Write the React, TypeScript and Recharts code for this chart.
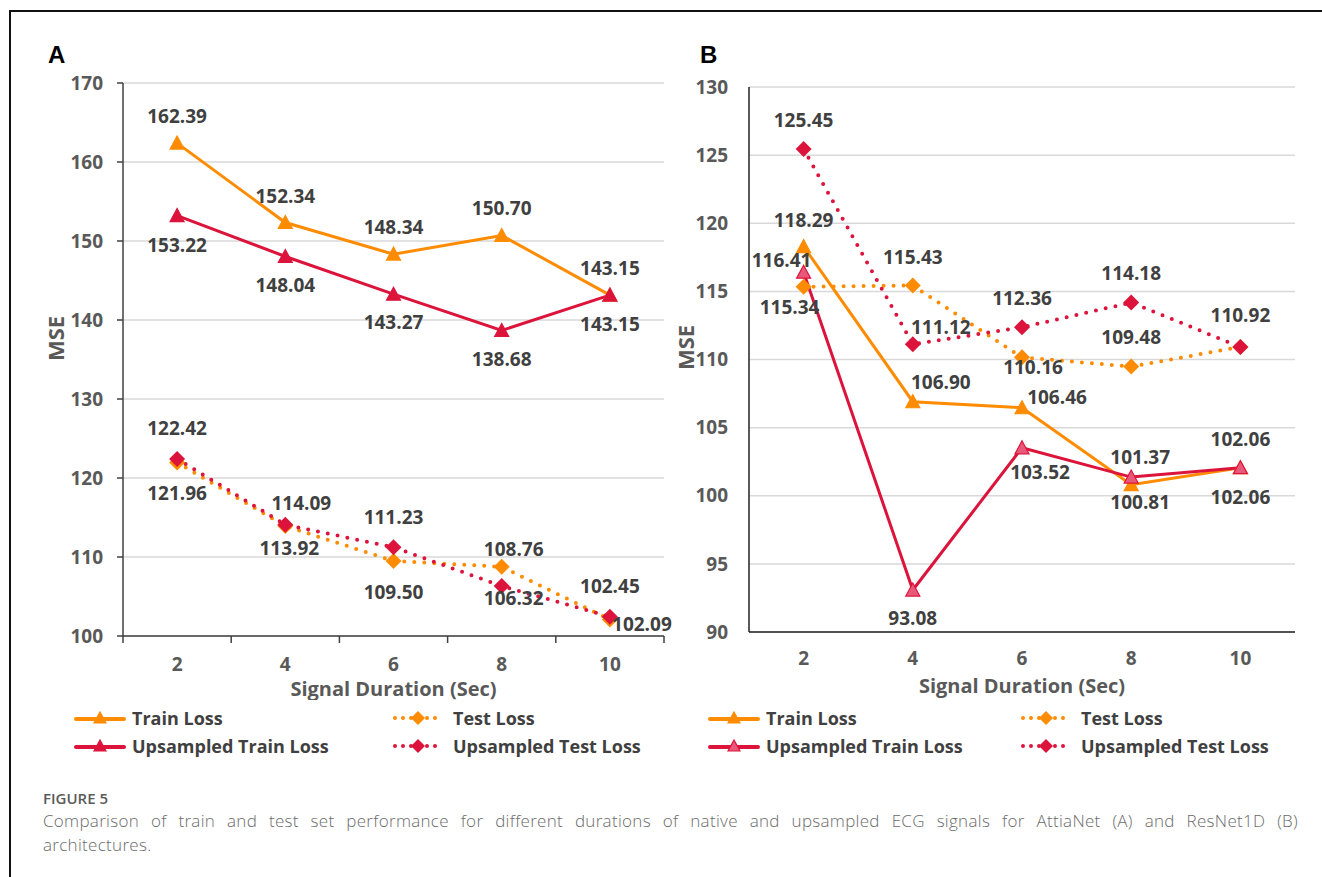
import React from "react"
import { LineChart, Line, XAxis, YAxis, CartesianGrid, LabelList } from "recharts"

// signal durations in seconds
const durations = [2, 4, 6, 8, 10]

// AttiaNet (A)
const trainA = [162.39, 152.34, 148.34, 150.7, 143.15]
const testA = [121.96, 113.92, 109.5, 108.76, 102.09]
const upTrainA = [153.22, 148.04, 143.27, 138.68, 143.15]
const upTestA = [122.42, 114.09, 111.23, 106.32, 102.45]
const ticksA = [100, 110, 120, 130, 140, 150, 160, 170]

// ResNet1D (B)
const trainB = [118.29, 106.9, 106.46, 100.81, 102.06]
const testB = [115.34, 115.43, 110.16, 109.48, 110.92]
const upTrainB = [116.41, 93.08, 103.52, 101.37, 102.06]
const upTestB = [125.45, 111.12, 112.36, 114.18, 110.92]
const ticksB = [90, 95, 100, 105, 110, 115, 120, 125, 130]

const seriesNames = ["Train Loss", "Test Loss", "Upsampled Train Loss", "Upsampled Test Loss"]

const ORANGE = "#FF8C00"
const RED = "#DC143C"
const FONT = "'Open Sans', 'Noto Sans', sans-serif"

// label offsets [dx, dy] per point, null = no label
type Off = [number, number] | null
const labelsA: Record<string, Off[]> = {
  train: [[0, -27], [0, -27], [0, -27], [0, -27], [0, -27]],
  test: [[0, 30], [4, 22], [0, 31], [12, -18], [32, 5]],
  upTrain: [[0, 29], [0, 29], [0, 28], [0, 29], [0, 29]],
  upTest: [[0, -31], [16, -22], [0, -30], [12, 12], [0, -31]],
}
const labelsB: Record<string, Off[]> = {
  train: [[0, -27], [28, -20], [35, -11], [9, 17], [0, 29]],
  test: [[-14, 20], [0, -29], [11, 10], [0, -30], null],
  upTrain: [[-22, -12], [0, 28], [18, 24], [9, -20], [0, -29]],
  upTest: [[0, -29], [28, -17], [0, -29], [0, -30], [0, -32]],
}

const boundaries = [durations[0] - 1, ...durations.map((d) => d + 1)]
const xTicks = [...durations, ...boundaries].sort((a, b) => a - b)

function rows(train: number[], test: number[], upTrain: number[], upTest: number[]) {
  return durations.map((d, i) => ({ x: d, train: train[i], test: test[i], upTrain: upTrain[i], upTest: upTest[i] }))
}

function Tri({ cx, cy, fill, stroke, s = 7 }: any) {
  return (
    <polygon
      points={`${cx},${cy - s} ${cx - s},${cy + s - 1} ${cx + s},${cy + s - 1}`}
      fill={fill}
      stroke={stroke || fill}
      strokeWidth={1.2}
    />
  )
}

function Diamond({ cx, cy, fill, s = 8 }: any) {
  return <polygon points={`${cx},${cy - s} ${cx + s},${cy} ${cx},${cy + s} ${cx - s},${cy}`} fill={fill} />
}

const makeLabel = (offs: Off[]) => (p: any) => {
  const o = offs[p.index]
  if (!o) return null
  return (
    <text
      key={`l${p.index}`}
      x={p.x + o[0]}
      y={p.y + o[1]}
      textAnchor="middle"
      dominantBaseline="central"
      fill="#404040"
      fontSize={19}
      fontWeight={700}
      fontFamily={FONT}
    >
      {Number(p.value).toFixed(2)}
    </text>
  )
}

const XTick = ({ x, y, payload, boundary, labelDy }: any) => {
  const v = payload.value
  if (durations.includes(v)) {
    return (
      <text x={x} y={y + labelDy} textAnchor="middle" dominantBaseline="central" fill="#595959" fontSize={19} fontWeight={700} fontFamily={FONT}>
        {v}
      </text>
    )
  }
  if (boundary) return <line x1={x} x2={x} y1={y} y2={y + 7} stroke="#404040" strokeWidth={1.5} />
  return <g />
}

function Panel({ data, labels, domain, ticks, left, plotLeft, plotRight, top, bottom, boundary, axisColor, yTickLine, msePos, hollow, labelDy, titleDy }: any) {
  const W = 700
  const H = 700
  const yw = 60
  return (
    <div style={{ position: "absolute", left, top: 0 }}>
      <LineChart
        width={W}
        height={H}
        data={data}
        margin={{ top, left: plotLeft - left - yw, right: W - (plotRight - left), bottom: H - bottom - 60 }}
      >
        <CartesianGrid vertical={false} stroke="#D9D9D9" strokeWidth={1.5} />
        <XAxis
          dataKey="x"
          type="number"
          domain={[boundaries[0], boundaries[boundaries.length - 1]]}
          ticks={xTicks}
          interval={0}
          height={60}
          tickSize={0}
          tickMargin={0}
          tickLine={false}
          axisLine={{ stroke: axisColor, strokeWidth: 1.5 }}
          tick={<XTick boundary={boundary} labelDy={labelDy} />}
          label={{
            content: (p: any) => (
              <text
                x={p.viewBox.x + p.viewBox.width / 2}
                y={p.viewBox.y + titleDy}
                textAnchor="middle"
                dominantBaseline="central"
                fill="#595959"
                fontSize={20}
                fontWeight={700}
                fontFamily={FONT}
              >
                Signal Duration (Sec)
              </text>
            ),
          }}
        />
        <YAxis
          width={yw}
          domain={domain}
          ticks={ticks}
          interval={0}
          tickSize={6}
          tickMargin={yTickLine ? 14 : 15}
          tickLine={yTickLine ? { stroke: axisColor, strokeWidth: 1.5 } : false}
          axisLine={{ stroke: axisColor, strokeWidth: 1.5 }}
          tick={{ fill: "#595959", fontSize: 19, fontWeight: 700, fontFamily: FONT }}
          label={{
            content: (p: any) => (
              <text
                transform={`translate(${p.viewBox.x + msePos[0]}, ${p.viewBox.y + p.viewBox.height / 2 + msePos[1]}) rotate(-90)`}
                textAnchor="middle"
                dominantBaseline="central"
                fill="#595959"
                fontSize={22}
                fontWeight={700}
                fontFamily={FONT}
              >
                MSE
              </text>
            ),
          }}
        />
        <Line
          dataKey="train"
          stroke={ORANGE}
          strokeWidth={3}
          isAnimationActive={false}
          activeDot={false}
          dot={(p: any) => <Tri key={`t${p.index}`} cx={p.cx} cy={p.cy} fill={ORANGE} />}
        >
          <LabelList dataKey="train" content={makeLabel(labels.train)} />
        </Line>
        <Line
          dataKey="test"
          stroke={ORANGE}
          strokeWidth={4}
          strokeDasharray="0 10"
          strokeLinecap="round"
          isAnimationActive={false}
          activeDot={false}
          dot={(p: any) => <Diamond key={`s${p.index}`} cx={p.cx} cy={p.cy} fill={ORANGE} />}
        >
          <LabelList dataKey="test" content={makeLabel(labels.test)} />
        </Line>
        <Line
          dataKey="upTrain"
          stroke={RED}
          strokeWidth={3}
          isAnimationActive={false}
          activeDot={false}
          dot={(p: any) => <Tri key={`u${p.index}`} cx={p.cx} cy={p.cy} fill={hollow ? "#E8587A" : RED} stroke={RED} />}
        >
          <LabelList dataKey="upTrain" content={makeLabel(labels.upTrain)} />
        </Line>
        <Line
          dataKey="upTest"
          stroke={RED}
          strokeWidth={4}
          strokeDasharray="0 10"
          strokeLinecap="round"
          isAnimationActive={false}
          activeDot={false}
          dot={(p: any) => <Diamond key={`v${p.index}`} cx={p.cx} cy={p.cy} fill={RED} />}
        >
          <LabelList dataKey="upTest" content={makeLabel(labels.upTest)} />
        </Line>
      </LineChart>
    </div>
  )
}

function LegendItem({ x, y, name, color, dotted, light }: any) {
  return (
    <div style={{ position: "absolute", left: x, top: y - 12, height: 24, display: "flex", alignItems: "center" }}>
      <svg width={52} height={24} style={{ marginRight: dotted ? 9 : 6 }}>
        {dotted ? (
          <>
            <line x1={3} x2={50} y1={12} y2={12} stroke={color} strokeWidth={4} strokeDasharray="0 8" strokeLinecap="round" />
            <Diamond cx={26} cy={12} fill={color} s={7} />
          </>
        ) : (
          <>
            <line x1={2} x2={50} y1={13} y2={13} stroke={color} strokeWidth={4} strokeLinecap="round" />
            <Tri cx={26} cy={12} fill={light ? "#E8587A" : color} stroke={color} s={6} />
          </>
        )}
      </svg>
      <span style={{ fontFamily: FONT, fontWeight: 700, fontSize: 18, color: "#404040", whiteSpace: "nowrap" }}>{name}</span>
    </div>
  )
}

function Legend({ x1, x2, light }: any) {
  return (
    <>
      <LegendItem x={x1} y={718} name={seriesNames[0]} color={ORANGE} />
      <LegendItem x={x2} y={718} name={seriesNames[1]} color={ORANGE} dotted />
      <LegendItem x={x1} y={746} name={seriesNames[2]} color={RED} light={light} />
      <LegendItem x={x2} y={746} name={seriesNames[3]} color={RED} dotted />
    </>
  )
}

export default function App() {
  return (
    <div style={{ position: "fixed", left: 0, top: 0, width: 1322, height: 877, overflow: "hidden", background: "#fff" }}>
      <div style={{ position: "absolute", left: 9, top: 10, width: 1400, height: 1000, borderLeft: "2px solid #111", borderTop: "2px solid #111" }} />
      <div style={{ position: "absolute", left: 48, top: 40, fontFamily: "'Liberation Sans', Arial, sans-serif", fontWeight: 700, fontSize: 24, lineHeight: "30px" }}>A</div>
      <div style={{ position: "absolute", left: 700, top: 40, fontFamily: "'Liberation Sans', Arial, sans-serif", fontWeight: 700, fontSize: 24, lineHeight: "30px" }}>B</div>

      <Panel
        data={rows(trainA, testA, upTrainA, upTestA)}
        labels={labelsA}
        domain={[100, 170]}
        ticks={ticksA}
        left={0}
        plotLeft={123}
        plotRight={664}
        top={83}
        bottom={636}
        boundary
        axisColor="#404040"
        yTickLine
        msePos={[-8, -21]}
        labelDy={28}
        titleDy={52}
      />
      <Panel
        data={rows(trainB, testB, upTrainB, upTestB)}
        labels={labelsB}
        domain={[90, 130]}
        ticks={ticksB}
        left={630}
        plotLeft={749}
        plotRight={1295}
        top={87}
        bottom={632}
        boundary={false}
        axisColor="#222"
        yTickLine={false}
        msePos={[-4, -12]}
        hollow
        labelDy={26}
        titleDy={53}
      />

      <Legend x1={74} x2={392} />
      <Legend x1={708} x2={1020} light />

      <div style={{ position: "absolute", left: 43, top: 788, fontFamily: FONT, fontSize: 15, fontWeight: 600, color: "#5a5a5a", lineHeight: "20px" }}>
        FIGURE 5
      </div>
      <div style={{ position: "absolute", left: 43, top: 809, width: 1255, fontFamily: FONT, fontSize: 17, fontWeight: 300, letterSpacing: 0.3, color: "#6b6b6b", lineHeight: "24px" }}>
        <div style={{ textAlign: "justify", textAlignLast: "justify" }}>
          Comparison of train and test set performance for different durations of native and upsampled ECG signals for AttiaNet (A) and ResNet1D (B)
        </div>
        <div>architectures.</div>
      </div>
    </div>
  )
}
